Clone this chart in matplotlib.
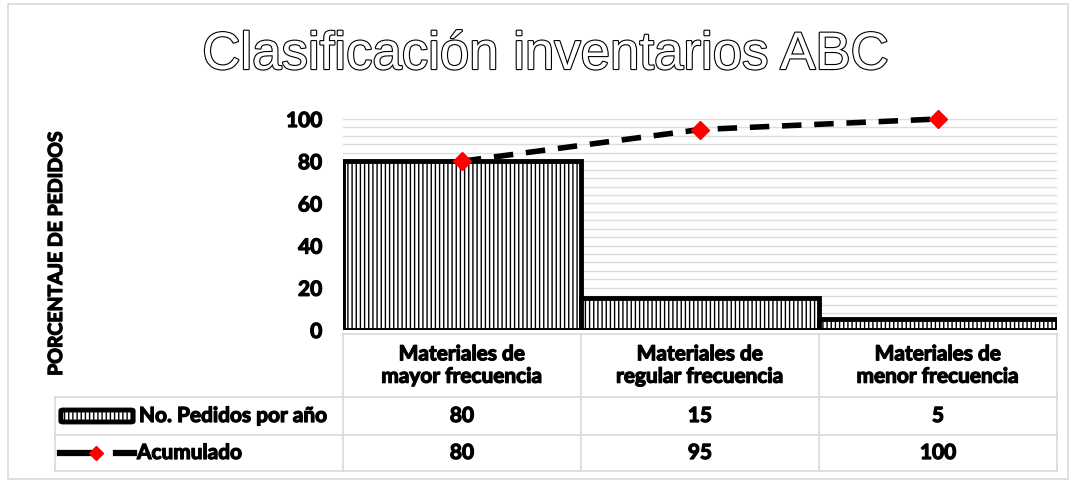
import numpy as np
import matplotlib
matplotlib.use("Agg")
import matplotlib.pyplot as plt
import matplotlib.patheffects as pe
import matplotlib.transforms as mtransforms
from matplotlib.patches import Rectangle, FancyBboxPatch
from matplotlib.lines import Line2D

# data
categorias = ["Materiales de\nmayor frecuencia", "Materiales de\nregular frecuencia", "Materiales de\nmenor frecuencia"]
pedidos = [80, 15, 5]
acumulado = [80, 95, 100]
serie_barras = "No. Pedidos por año"
serie_linea = "Acumulado"

plt.rcParams['font.family'] = ['Lato', 'DejaVu Sans']
plt.rcParams['hatch.color'] = 'black'
plt.rcParams['hatch.linewidth'] = 1.0
# Lato bold plus a thin stroke to look like the heavy Calibri bold
heavy = [pe.withStroke(linewidth=0.9, foreground='black')]
FS = 15

W, H = 1074, 485
fig = plt.figure(figsize=(W / 100, H / 100), dpi=100)

def fx(px):
    return px / W

def fy(py):
    return 1 - py / H

# outer border
fig.patches.append(Rectangle((fx(8), fy(480)), fx(1060), 475 / H, transform=fig.transFigure,
                             fill=False, edgecolor='#d9d9d9', lw=1.2))

ax = fig.add_axes([fx(343), fy(331), fx(1057 - 343), (331 - 120) / H])
x = np.arange(len(categorias))
ax.bar(x, pedidos, width=1.0, color='white', edgecolor='black', linewidth=3.5, hatch='||||', zorder=3)
ax.plot(x, acumulado, color='black', lw=4, dashes=(3.5, 2.3), marker='D', markersize=9,
        markerfacecolor='red', markeredgecolor='red', zorder=4, clip_on=False)

ax.set_xlim(-0.5, len(categorias) - 0.5)
ax.set_ylim(0, 100)
ax.set_yticks(range(0, 101, 20))
ax.set_yticks(range(0, 101, 4), minor=True)
ax.grid(True, which='both', axis='y', color='#dcdcdc', lw=1, zorder=0)
ax.set_xticks([])
ax.tick_params(axis='y', which='both', length=0, pad=15, labelsize=FS)
for lab in ax.get_yticklabels():
    lab.set_fontweight('bold')
    lab.set_path_effects(heavy)
for s in ax.spines.values():
    s.set_visible(False)

ax.set_ylabel("PORCENTAJE DE PEDIDOS", fontsize=14, fontweight='bold', path_effects=heavy)
ax.yaxis.set_label_coords((65 - 343) / (1057 - 343), 0.365)

# title with outlined letters
fig.text(0.5 + fx(8), fy(56), "Clasificación inventarios ABC", ha='center', va='center',
         fontsize=38, family='Liberation Sans', color='white',
         path_effects=[pe.withStroke(linewidth=1.6, foreground='black')])

# data table
grid_c = '#d9d9d9'
tr = mtransforms.blended_transform_factory(ax.transData, fig.transFigure)
edges = list(np.arange(len(categorias) + 1) - 0.5)
y_top, y_hdr, y_r1, y_r2 = fy(335), fy(398), fy(436), fy(472)
for e in edges:
    fig.add_artist(Line2D([e, e], [y_top, y_r2], transform=tr, color=grid_c, lw=1.2))
fig.add_artist(Line2D([edges[0], edges[-1]], [y_top, y_top], transform=tr, color=grid_c, lw=1.2))
for yy in (y_hdr, y_r1, y_r2):
    fig.add_artist(Line2D([fx(55), fx(1057)], [yy, yy], transform=fig.transFigure, color=grid_c, lw=1.2))
fig.add_artist(Line2D([fx(55), fx(55)], [y_hdr, y_r2], transform=fig.transFigure, color=grid_c, lw=1.2))

for i, c in enumerate(categorias):
    fig.text(x[i], (y_top + y_hdr) / 2, c, transform=tr, ha='center', va='center',
             fontsize=FS, fontweight='bold', linespacing=1.15, path_effects=heavy)
    fig.text(x[i], (y_hdr + y_r1) / 2, str(pedidos[i]), transform=tr, ha='center', va='center',
             fontsize=FS, fontweight='bold', path_effects=heavy)
    fig.text(x[i], (y_r1 + y_r2) / 2, str(acumulado[i]), transform=tr, ha='center', va='center',
             fontsize=FS, fontweight='bold', path_effects=heavy)

# legend keys inside table
ym1 = (y_hdr + y_r1) / 2
ym2 = (y_r1 + y_r2) / 2
fig.patches.append(FancyBboxPatch((fx(63), ym1 - 5 / H), fx(68), 10 / H, transform=fig.transFigure,
                                  boxstyle='round,pad=0.002', facecolor='white', edgecolor='black',
                                  lw=3.5, hatch='||||'))
fig.text(fx(139), ym1, serie_barras, ha='left', va='center', fontsize=FS, fontweight='bold',
         path_effects=heavy)
fig.add_artist(Line2D([fx(60), fx(96)], [ym2, ym2], transform=fig.transFigure, color='black', lw=4.5))
fig.add_artist(Line2D([fx(116), fx(134)], [ym2, ym2], transform=fig.transFigure, color='black', lw=4.5))
fig.add_artist(Line2D([fx(96)], [ym2], transform=fig.transFigure, marker='D', markersize=7,
                      color='red', lw=0))
fig.text(fx(137), ym2, serie_linea, ha='left', va='center', fontsize=FS, fontweight='bold',
         path_effects=heavy)

fig.savefig("out.png", dpi=100)
